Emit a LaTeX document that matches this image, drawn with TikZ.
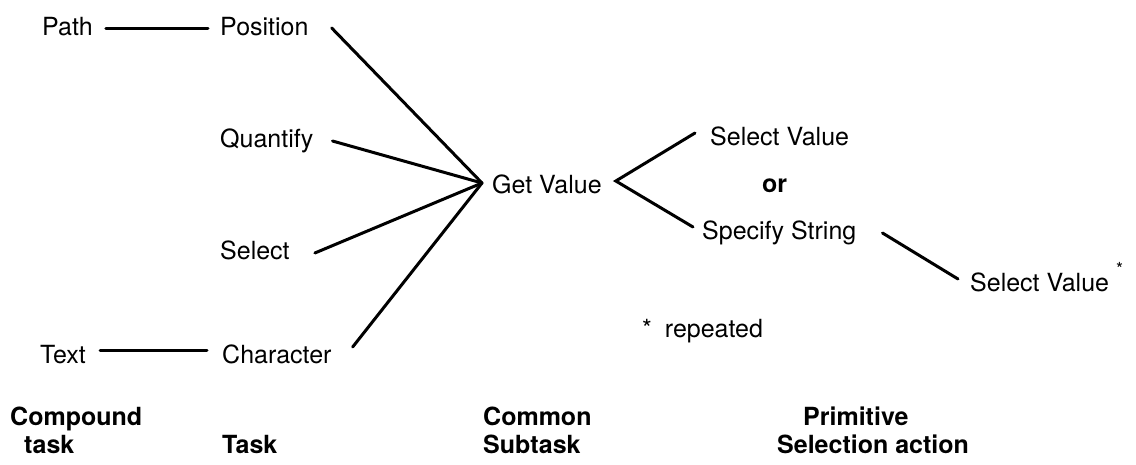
\documentclass[tikz,border=0pt]{standalone}
\usepackage{fontspec}
\setmainfont{TeX Gyre Heros}
\begin{document}
\begin{tikzpicture}[x=1pt,y=-1pt,
  lbl/.style={anchor=base west,inner sep=0pt,font=\fontsize{25}{30}\selectfont},
  head/.style={anchor=base west,inner sep=0pt,font=\fontsize{25}{30}\selectfont\bfseries},
  link/.style={line width=3pt,line cap=round}]
\useasboundingbox[fill=white] (0,0) rectangle (1136,464);

% compound tasks and tasks
\node[lbl] (path)  at (42,35)   {Path};
\node[lbl] (pos)   at (220,35)  {Position};
\node[lbl] (quant) at (220,147) {Quantify};
\node[lbl] (sel)   at (220,259) {Select};
\node[lbl] (text)  at (40,363)  {Text};
\node[lbl] (char)  at (222,363) {Character};

% common subtask and primitive actions
\node[lbl]  (get)  at (492,193) {Get Value};
\node[lbl]  (selv) at (710,145) {Select Value};
\node[head] (or)   at (762,192) {or};
\node[lbl]  (spec) at (702,239) {Specify String};
\node[lbl]  (selr) at (970,291) {Select Value\hspace{7pt}\raisebox{16pt}{\fontsize{18}{18}\selectfont *}};
\node[lbl]  (rep)  at (642,337) {*\hspace{13pt}repeated};

% column headings
\node[head] (ct1) at (10,425)  {Compound};
\node[head] (ct2) at (24,453)  {task};
\node[head] (tk)  at (222,453) {Task};
\node[head] (cs1) at (483,425) {Common};
\node[head] (cs2) at (483,453) {Subtask};
\node[head] (ps1) at (803,425) {Primitive};
\node[head] (ps2) at (777,453) {Selection action};

% junction points
\coordinate (hub)  at ([xshift=-10pt,yshift=10pt]get.base west);
\coordinate (fork) at ([xshift=14pt,yshift=12pt]get.base east);

% connectors
\draw[link] ([xshift=13pt,yshift=7pt]path.base east) -- ([xshift=-12pt,yshift=7pt]pos.base west);
\draw[link] ([xshift=14pt,yshift=13pt]text.base east) -- ([xshift=-15pt,yshift=13pt]char.base west);

\draw[link] ([xshift=23pt,yshift=7pt]pos.base east)    -- (hub);
\draw[link] ([xshift=19pt,yshift=6pt]quant.base east)  -- (hub);
\draw[link] ([xshift=25pt,yshift=6pt]sel.base east)    -- (hub);
\draw[link] ([xshift=21pt,yshift=16pt]char.base east)  -- (hub);

\draw[link] ([xshift=-15pt,yshift=12pt]selv.base west) -- (fork) -- ([xshift=-9pt,yshift=12pt]spec.base west);
\draw[link] ([xshift=26pt,yshift=6pt]spec.base east) -- ([xshift=-12pt,yshift=12pt]selr.base west);
\end{tikzpicture}
\end{document}
